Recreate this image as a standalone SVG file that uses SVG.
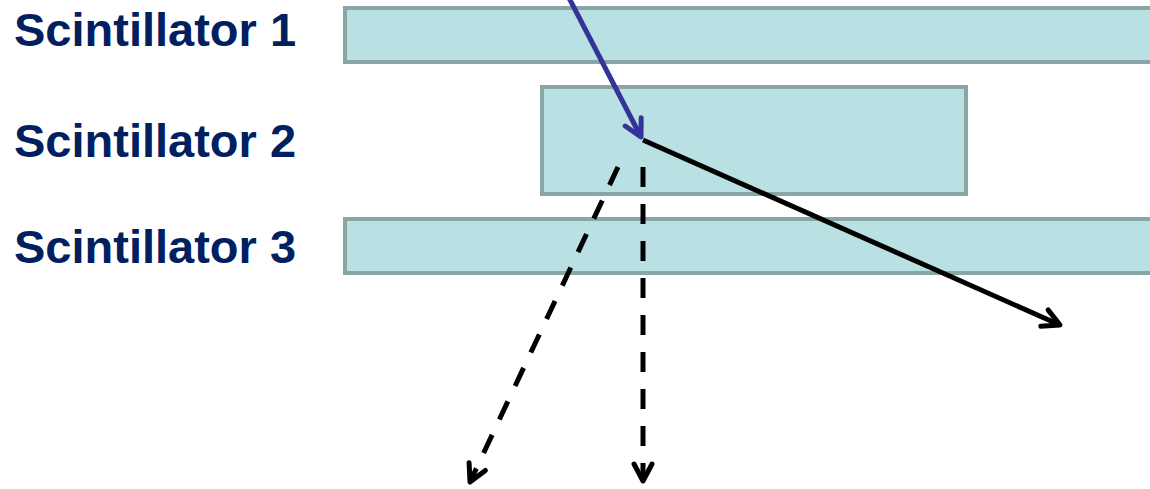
<svg xmlns="http://www.w3.org/2000/svg" width="1150" height="489" viewBox="0 0 1150 489">
<style>
.lbl{font-family:"Liberation Sans",Arial,sans-serif;font-weight:bold;font-size:47px;fill:#002060}
.sc{fill:#b9e0e3;stroke:#8aa5a6;stroke-width:4}
.blk{stroke:#000;stroke-width:5;fill:none}
.dash{stroke-dasharray:20 17}
</style>
<defs>
<marker id="ab" viewBox="-20 -12 23 24" refX="0" refY="0" markerWidth="23" markerHeight="24" markerUnits="userSpaceOnUse" orient="auto">
<path d="M-17,-9 L0,0 L-17,9" fill="none" stroke="#333399" stroke-width="5" stroke-linecap="round" stroke-linejoin="round"/>
</marker>
<marker id="ak" viewBox="-20 -12 23 24" refX="0" refY="0" markerWidth="23" markerHeight="24" markerUnits="userSpaceOnUse" orient="auto">
<path d="M-17,-9 L0,0 L-17,9" fill="none" stroke="#000" stroke-width="5" stroke-linecap="round" stroke-linejoin="round"/>
</marker>
</defs>
<g id="scint1"><rect class="sc" x="345" y="8" width="820" height="54"/><text class="lbl" x="14" y="46">Scintillator 1</text></g>
<g id="scint2"><rect class="sc" x="542" y="87" width="424" height="107"/><text class="lbl" x="14" y="157">Scintillator 2</text></g>
<g id="scint3"><rect class="sc" x="345" y="219" width="820" height="54"/><text class="lbl" x="14" y="263">Scintillator 3</text></g>
<g id="connectors">
<line x1="568" y1="-4" x2="641" y2="137" stroke="#333399" stroke-width="5" marker-end="url(#ab)"/>
<line class="blk" x1="643" y1="140" x2="1060" y2="325" marker-end="url(#ak)"/>
<line class="blk dash" x1="618" y1="167" x2="470" y2="482" marker-end="url(#ak)"/>
<line class="blk dash" x1="643" y1="167" x2="643" y2="481" marker-end="url(#ak)"/>
</g>
</svg>
